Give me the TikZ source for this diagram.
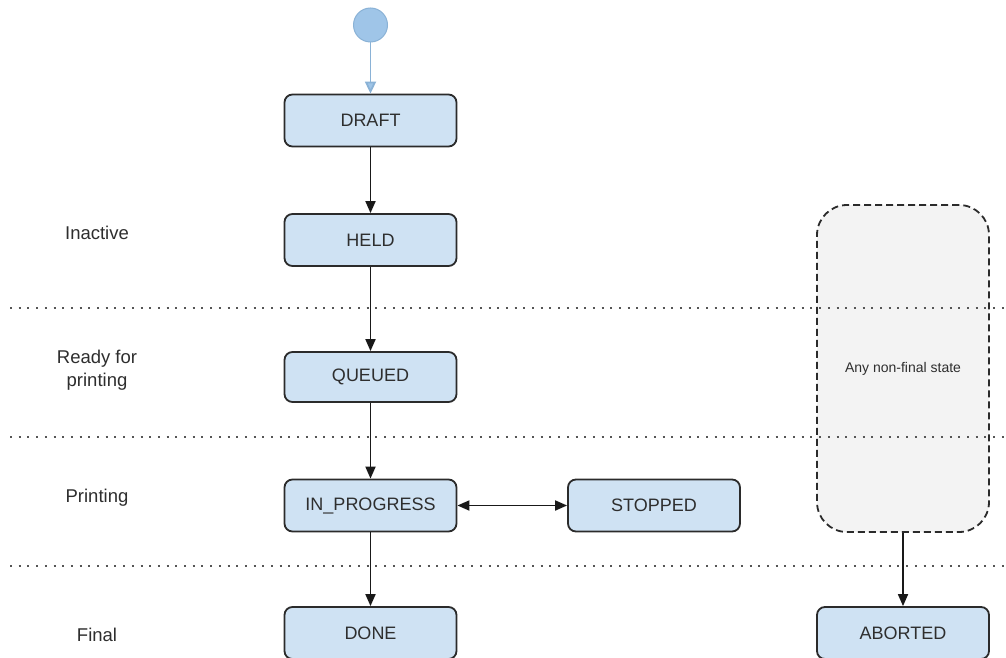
\documentclass[tikz,border=0pt]{standalone}
\usepackage{fontspec}
\setmainfont{Liberation Sans}
\usetikzlibrary{arrows.meta}
\definecolor{boxfill}{HTML}{CFE2F3}
\definecolor{boxline}{HTML}{2B2B2B}
\definecolor{txt}{HTML}{2E2E2E}
\definecolor{startfill}{HTML}{9FC5E8}
\definecolor{startline}{HTML}{8AB2D6}
\definecolor{anyfill}{HTML}{F3F3F3}
\definecolor{sepline}{HTML}{555555}
\tikzset{
  statebox/.style={draw=boxline, line width=1.8pt, fill=boxfill, rounded corners=8pt,
    minimum width=172pt, minimum height=52pt, inner sep=0pt, text=txt,
    font=\fontsize{18}{22}\selectfont},
  lanelabel/.style={text=txt, font=\fontsize{18.5}{23}\selectfont, align=center, inner sep=0pt},
  tip/.style={Triangle[length=12pt,width=10pt]},
  flow/.style={draw=black!90, line width=1.8pt, -{Triangle[length=12pt,width=10pt]}},
  sep/.style={draw=sepline, line width=2.2pt, dash pattern=on 2pt off 6.7pt},
}
\begin{document}
\begin{tikzpicture}[x=1pt,y=-1pt]
\useasboundingbox (0,0) rectangle (1006,658);
\fill[white] (0,0) rectangle (1006,658);
\clip (0,0) rectangle (1006,658);

% start
\node[circle, draw=startline, line width=1pt, fill=startfill, minimum size=34pt, inner sep=0pt] (start) at (370.5,25) {};

% states
\node[statebox] (draft) at (370.5,120.5) {DRAFT};
\node[statebox] (held) at (370.5,240) {HELD};
\node[statebox, minimum height=50pt] (queued) at (370.5,377) {QUEUED};
\node[statebox] (inprog) at (370.5,505.5) {IN\_PROGRESS};
\node[statebox] (done) at (370.5,633) {DONE};
\node[statebox] (stopped) at (654,505.5) {STOPPED};
\node[draw=boxline, line width=1.8pt, dashed, dash pattern=on 7pt off 4pt, fill=anyfill,
  rounded corners=30pt, minimum width=172pt, minimum height=327pt, inner sep=0pt,
  text=txt, font=\fontsize{14}{17}\selectfont] (any) at (903,368.5) {Any non-final state};
\node[statebox] (aborted) at (903,633) {ABORTED};

% lane labels
\node[lanelabel] (l1) at (97,233) {Inactive};
\node[lanelabel] (l2) at (97,370) {Ready for\\printing};
\node[lanelabel] (l3) at (97,498) {Printing};
\node[lanelabel] (l4) at (97,635) {Final};

% separators
\coordinate (s1a) at (10,308); \coordinate (s1b) at (1006,308);
\coordinate (s2a) at (10,437); \coordinate (s2b) at (1006,437);
\coordinate (s3a) at (10,566); \coordinate (s3b) at (1006,566);

% connectors
\draw[draw=startline, line width=1.8pt, -{Triangle[length=12pt,width=11pt,fill=startfill]}] (start) -- (draft);
\draw[flow] (draft) -- (held);
\draw[flow] (held) -- (queued);
\draw[flow] (queued) -- (inprog);
\draw[flow] (inprog) -- (done);
\draw[draw=black!90, line width=1.8pt, {Triangle[length=12pt,width=10pt]}-{Triangle[length=12pt,width=10pt]}] (inprog) -- (stopped);
\draw[flow] (any) -- (aborted);

\draw[sep] (s1a) -- (s1b);
\draw[sep] (s2a) -- (s2b);
\draw[sep] (s3a) -- (s3b);
\end{tikzpicture}
\end{document}
